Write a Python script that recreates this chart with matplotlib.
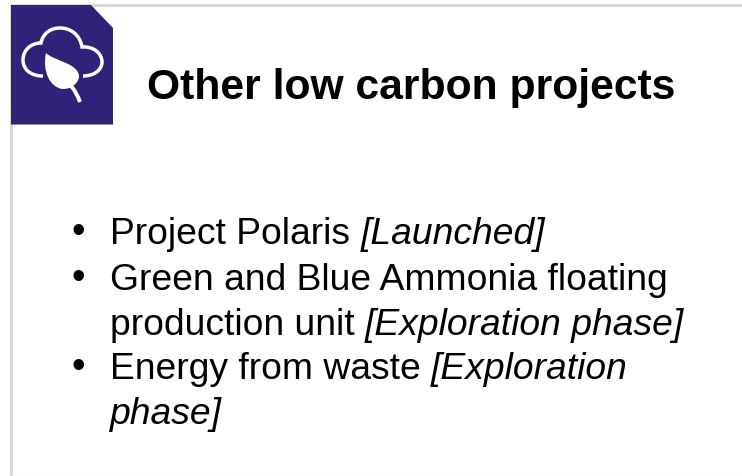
import matplotlib
matplotlib.use("Agg")
import matplotlib.pyplot as plt
from matplotlib.patches import Polygon, PathPatch
from matplotlib.path import Path

W, H = 742, 477

title = "Other low carbon projects"
bullets = [
    ("Project Polaris ", "[Launched]"),
    ("Green and Blue Ammonia floating", ""),
    ("production unit ", "[Exploration phase]"),
    ("Energy from waste ", "[Exploration"),
    ("", "phase]"),
]
bullet_marks = [True, True, False, True, False]
baselines = [244, 290, 335, 379, 424]

plt.rcParams['font.family'] = ['Liberation Sans', 'DejaVu Sans']

fig = plt.figure(figsize=(7.42, 4.77), dpi=100)
ax = fig.add_axes([0, 0, 1, 1])
ax.set_xlim(0, W)
ax.set_ylim(H, 0)
ax.axis('off')

# slide border, only top and left show
ax.plot([11, 742], [6, 6], color="#d9d9d9", lw=2.2, solid_capstyle='butt')
ax.plot([11, 11], [6, 477], color="#d9d9d9", lw=2.2, solid_capstyle='butt')
ax.plot([11, 742], [476.5, 476.5], color="#f0f0f0", lw=1, solid_capstyle='butt')

# icon
ax.add_patch(Polygon([(11, 6), (91, 6), (113, 29), (113, 125.5), (11, 125.5)], closed=True,
                     facecolor="#2e2378", edgecolor='none', zorder=3))

cloud = Path(
    [(43, 77), (30, 77), (23, 70), (23, 61),
     (23, 51), (31, 44), (41, 44),
     (43, 34), (51, 29), (60, 29),
     (71, 29), (80, 36), (82, 48),
     (93, 47), (102, 54), (102, 63),
     (102, 71), (94, 77), (83, 77)],
    [Path.MOVETO] + [Path.CURVE4] * 18)
ax.add_patch(PathPatch(cloud, facecolor='none', edgecolor='white', lw=2.5, zorder=4))

leaf = Path(
    [(46, 54), (54, 62), (79, 64), (79, 78),
     (78, 84), (72, 90), (63, 90),
     (50, 89), (42, 72), (46, 54)],
    [Path.MOVETO] + [Path.CURVE4] * 9)
ax.add_patch(PathPatch(leaf, facecolor='white', edgecolor='none', zorder=4))
stem = Path([(62, 78), (70, 84), (76, 92), (80, 103)],
            [Path.MOVETO] + [Path.CURVE4] * 3)
ax.add_patch(PathPatch(stem, facecolor='none', edgecolor='white', lw=2.8, zorder=4))

ax.text(147, 99, title, fontsize=30.7, fontweight='bold', color='black', va='baseline', ha='left')

# body text, italic part placed right after the regular part
fig.canvas.draw()
renderer = fig.canvas.get_renderer()
for (plain, ital), mark, y in zip(bullets, bullet_marks, baselines):
    if mark:
        ax.text(71.5, y - 1, "•", fontsize=28, va='baseline', ha='left', color='black')
    x = 110
    if plain:
        t = ax.text(x, y, plain, fontsize=26.8, va='baseline', ha='left', color='black')
        x += t.get_window_extent(renderer).width
    if ital:
        ax.text(x, y, ital, fontsize=26.8, style='italic', va='baseline', ha='left', color='black')

fig.savefig("out.png", dpi=100, facecolor='white')
